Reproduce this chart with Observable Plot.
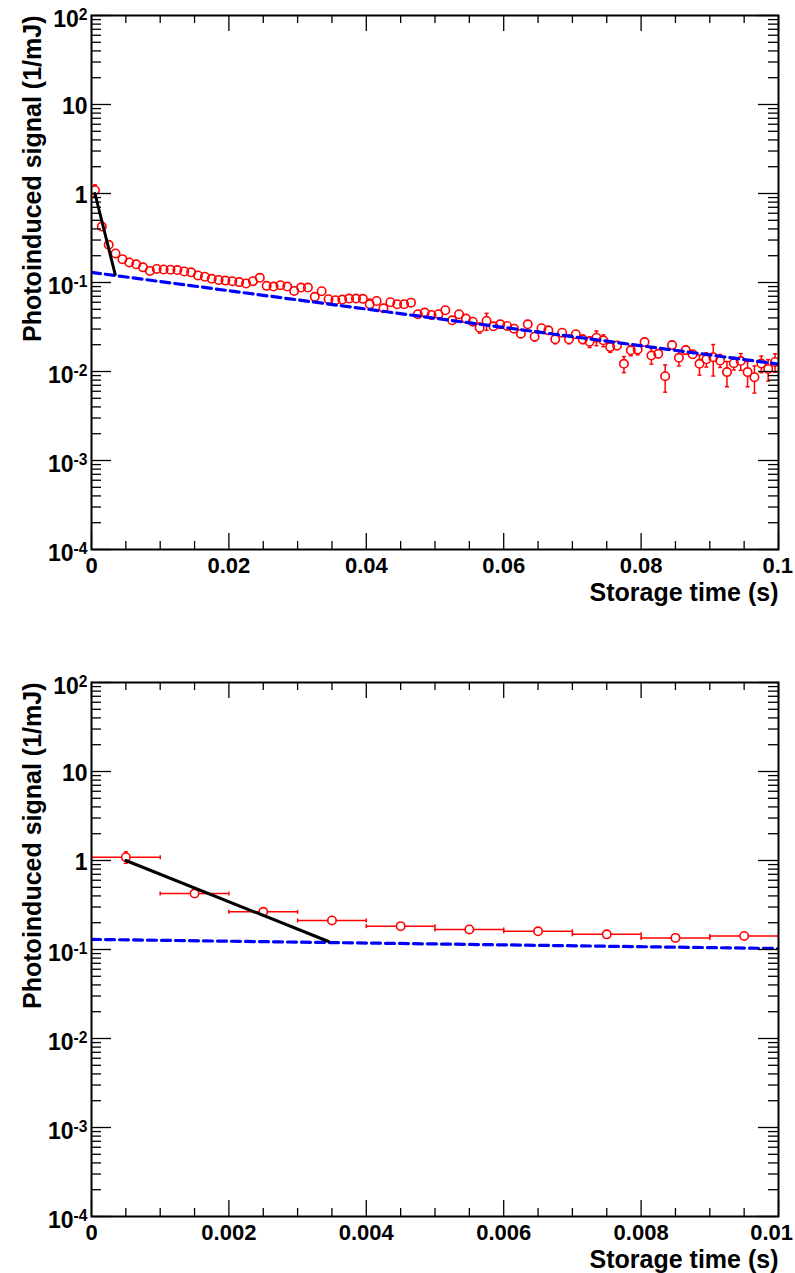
<!DOCTYPE html>
<html><head><meta charset="utf-8">
<script src="https://cdn.jsdelivr.net/npm/d3@7"></script>
<script src="https://cdn.jsdelivr.net/npm/@observablehq/plot@0.6"></script>
<style>
body{margin:0;background:#fff;}
svg{display:block;}
</style>
</head><body><div id="chart"></div>
<script>
// ---- data ----
const binCenters = [
 0.0005,0.0015,0.0025,0.0035,0.0045,0.0055,0.0065,0.0075,0.0085,0.0095,
 0.0105,0.0115,0.0125,0.0135,0.0145,0.0155,0.0165,0.0175,0.0185,0.0195,
 0.0205,0.0215,0.0225,0.0235,0.0245,0.0255,0.0265,0.0275,0.0285,0.0295,
 0.0305,0.0315,0.0325,0.0335,0.0345,0.0355,0.0365,0.0375,0.0385,0.0395,
 0.0405,0.0415,0.0425,0.0435,0.0445,0.0455,0.0465,0.0475,0.0485,0.0495,
 0.0505,0.0515,0.0525,0.0535,0.0545,0.0555,0.0565,0.0575,0.0585,0.0595,
 0.0605,0.0615,0.0625,0.0635,0.0645,0.0655,0.0665,0.0675,0.0685,0.0695,
 0.0705,0.0715,0.0725,0.0735,0.0745,0.0755,0.0765,0.0775,0.0785,0.0795,
 0.0805,0.0815,0.0825,0.0835,0.0845,0.0855,0.0865,0.0875,0.0885,0.0895,
 0.0905,0.0915,0.0925,0.0935,0.0945,0.0955,0.0965,0.0975,0.0985,0.0995
];
const signal = [
 1.09,0.425,0.265,0.212,0.183,0.168,0.160,0.148,0.135,0.142,
 0.140,0.139,0.138,0.133,0.130,0.120,0.116,0.110,0.107,0.105,
 0.1035,0.101,0.0975,0.1035,0.113,0.0917,0.090,0.0933,0.090,0.0805,
 0.0877,0.0877,0.069,0.0798,0.0649,0.0632,0.0643,0.066,0.066,0.0655,
 0.057,0.062,0.0513,0.060,0.057,0.057,0.0594,0.044,0.0459,0.0432,
 0.044,0.0488,0.0376,0.044,0.0393,0.0363,0.031,0.037,0.0322,0.0339,
 0.0325,0.0303,0.0266,0.0339,0.0246,0.0306,0.029,0.023,0.0273,0.023,
 0.0262,0.023,0.0216,0.024,0.0224,0.0188,0.0196,0.0122,0.0173,0.0177,
 0.0214,0.0151,0.0158,0.00886,0.0198,0.01426,0.0174,0.0156,0.0122,0.0137,
 0.0145,0.0133,0.00984,0.0124,0.0131,0.00984,0.00863,0.0123,0.0107,0.0128
];
const signalErr = [
 0.16,0.03,0.02,0.01,0.01,0.01,0.01,0.01,0.01,0.01,
 0.004,0.004,0.004,0.004,0.004,0.004,0.004,0.004,0.004,0.004,
 0.004,0.004,0.004,0.004,0.004,0.004,0.004,0.004,0.004,0.004,
 0.004,0.004,0.004,0.004,0.004,0.004,0.004,0.004,0.004,0.004,
 0.008,0.003,0.003,0.003,0.003,0.003,0.003,0.003,0.003,0.003,
 0.003,0.003,0.003,0.003,0.003,0.003,0.004,0.008,0.0025,0.0025,
 0.0025,0.0025,0.0025,0.0025,0.0025,0.0025,0.0025,0.0025,0.0025,0.0025,
 0.0025,0.0025,0.003,0.0045,0.0034,0.0024,0.002,0.0025,0.0023,0.0023,
 0.002,0.003,0.0015,0.003,0.0015,0.0027,0.0018,0.0015,0.0031,0.0025,
 0.0056,0.0022,0.0031,0.002,0.0028,0.0031,0.0029,0.0026,0.0029,0.003
];
const binWidth = 0.001;

// fit curves (exponentials: straight lines on the log axis), endpoints
const slowFitX = [0, 0.1];
const slowFitY = [0.13, 0.0121];
const fastFitX = [0.0005, 0.00345];
const fastFitY = [1.0, 0.123];

// axes
const yTicks = [1e-4, 1e-3, 1e-2, 1e-1, 1, 10, 100];
const yTickLabels = ["10^-4", "10^-3", "10^-2", "10^-1", "1", "10", "10^2"];
const topXTicks = [0, 0.02, 0.04, 0.06, 0.08, 0.1];
const topXTickLabels = ["0", "0.02", "0.04", "0.06", "0.08", "0.1"];
const bottomXTicks = [0, 0.002, 0.004, 0.006, 0.008, 0.01];
const bottomXTickLabels = ["0", "0.002", "0.004", "0.006", "0.008", "0.01"];
const yTitle = "Photoinduced signal (1/mJ)";
const xTitle = "Storage time (s)";

// ---- build ----
const rows = binCenters.map((x, i) => ({x, y: signal[i], e: signalErr[i]}));
const slowFit = slowFitX.map((x, i) => ({x, y: slowFitY[i]}));
const fastFit = fastFitX.map((x, i) => ({x, y: fastFitY[i]}));

const RED = "#ff0000", BLUE = "#0000ff";
const FONT = "'Liberation Sans', Arial, Helvetica, sans-serif";
const W = 795, ML = 91, MR = 17;

const capH = {draw(ctx, size){ const w = Math.sqrt(size / Math.PI); ctx.moveTo(-w, 0); ctx.lineTo(w, 0); }};
const capV = {draw(ctx, size){ const w = Math.sqrt(size / Math.PI); ctx.moveTo(0, -w); ctx.lineTo(0, w); }};

const yMinor = [];
for (let k = -4; k < 2; k++) for (let m = 2; m <= 9; m++) yMinor.push(m * Math.pow(10, k));

function panel(cfg) {
  const fw = W - ML - MR;
  const fh = cfg.height - cfg.marginTop - cfg.marginBottom;
  const [x0, x1] = cfg.xDomain;
  const step = cfg.xMinorStep;
  const xMinor = d3.range(0, Math.round((x1 - x0) / step) + 1).map(i => x0 + i * step)
    .filter(v => !cfg.xTicks.some(t => Math.abs(t - v) < step / 10));
  const yMajLen = 20, yMinLen = 10, xMajLen = 16, xMinLen = 8;
  const tickStyle = {stroke: "black", strokeWidth: 1.3};
  const svg = Plot.plot({
    width: W, height: cfg.height,
    marginLeft: ML, marginRight: MR, marginTop: cfg.marginTop, marginBottom: cfg.marginBottom,
    style: {fontFamily: FONT, background: "white"},
    x: {domain: cfg.xDomain},
    y: {type: "log", domain: [1e-4, 1e2]},
    marks: [
      // error bars
      Plot.ruleX(rows, {x: "x", y1: d => d.y - d.e, y2: d => d.y + d.e, stroke: RED, strokeWidth: 1.5, clip: true}),
      Plot.ruleY(rows, {y: "y", x1: d => d.x - binWidth / 2, x2: d => d.x + binWidth / 2, stroke: RED, strokeWidth: 1.5, clip: true}),
      Plot.dot(rows, {x: "x", y: d => d.y + d.e, symbol: capH, r: 2, stroke: RED, strokeWidth: 1.5, fill: "none", clip: true}),
      Plot.dot(rows, {x: "x", y: d => d.y - d.e, symbol: capH, r: 2, stroke: RED, strokeWidth: 1.5, fill: "none", clip: true}),
      Plot.dot(rows, {x: d => d.x - binWidth / 2, y: "y", symbol: capV, r: 2, stroke: RED, strokeWidth: 1.5, fill: "none", clip: true}),
      Plot.dot(rows, {x: d => d.x + binWidth / 2, y: "y", symbol: capV, r: 2, stroke: RED, strokeWidth: 1.5, fill: "none", clip: true}),
      // markers (open circles; error bars hidden inside)
      Plot.dot(rows, {x: "x", y: "y", r: 4.2, fill: "white", stroke: "none", clip: true}),
      Plot.dot(rows, {x: "x", y: "y", r: 4.2, fill: "none", stroke: RED, strokeWidth: 1.6, clip: true}),
      // fits
      Plot.line(slowFit, {x: "x", y: "y", stroke: BLUE, strokeWidth: 3.2, strokeDasharray: "9,5", clip: true}),
      Plot.line(fastFit, {x: "x", y: "y", stroke: "black", strokeWidth: 3, clip: true}),
      // y ticks (inside, both sides)
      Plot.ruleY(yTicks, {y: d => d, insetRight: fw - yMajLen, ...tickStyle}),
      Plot.ruleY(yTicks, {y: d => d, insetLeft: fw - yMajLen, ...tickStyle}),
      Plot.ruleY(yMinor, {y: d => d, insetRight: fw - yMinLen, ...tickStyle}),
      Plot.ruleY(yMinor, {y: d => d, insetLeft: fw - yMinLen, ...tickStyle}),
      // x ticks (inside, both sides)
      Plot.ruleX(cfg.xTicks, {x: d => d, insetTop: fh - xMajLen, ...tickStyle}),
      Plot.ruleX(cfg.xTicks, {x: d => d, insetBottom: fh - xMajLen, ...tickStyle}),
      Plot.ruleX(xMinor, {x: d => d, insetTop: fh - xMinLen, ...tickStyle}),
      Plot.ruleX(xMinor, {x: d => d, insetBottom: fh - xMinLen, ...tickStyle}),
      Plot.frame({stroke: "black", strokeWidth: 2}),
      // tick labels
      Plot.axisY(yTicks, {anchor: "left", tickSize: 0, tickPadding: 4, label: null,
        tickFormat: d => yTickLabels[yTicks.indexOf(d)], fontSize: 23, fontWeight: "bold", fill: "black", dy: 2}),
      Plot.axisX(cfg.xTicks, {anchor: "bottom", tickSize: 0, tickPadding: 8, label: null,
        tickFormat: d => cfg.xLabels[cfg.xTicks.indexOf(d)], fontSize: 22, fontWeight: "bold", fill: "black"}),
      // axis titles
      Plot.text([yTitle], {frameAnchor: "top-left", rotate: -90, textAnchor: "end", dx: -68,
        fontSize: 25, fontWeight: "bold", fill: "black"}),
      Plot.text([xTitle], {frameAnchor: "bottom-right", textAnchor: "end", lineAnchor: "bottom", dy: 51,
        fontSize: 25, fontWeight: "bold", fill: "black"})
    ]
  });
  // superscript exponents; keep the last x label inside the page
  d3.select(svg).selectAll("text").each(function() {
    const txt = this.textContent;
    if (txt === cfg.xLabels[cfg.xLabels.length - 1]) {
      d3.select(this).attr("text-anchor", "end").attr("dx", "0.66em");
      return;
    }
    const m = /^10\^(-?\d+)$/.exec(txt);
    if (!m) return;
    const t = d3.select(this);
    t.text(null);
    t.append("tspan").attr("dy", "0.1em").text("10");
    t.append("tspan").attr("dy", "-0.45em").attr("font-size", "0.68em").text(m[1]);
  });
  return svg;
}

const root = document.getElementById("chart");
root.appendChild(panel({xDomain: [0, 0.1], xTicks: topXTicks, xLabels: topXTickLabels, xMinorStep: 0.005,
  height: 636, marginTop: 15, marginBottom: 87}));
root.appendChild(panel({xDomain: [0, 0.01], xTicks: bottomXTicks, xLabels: bottomXTickLabels, xMinorStep: 0.0005,
  height: 637, marginTop: 46, marginBottom: 57}));
</script>
</body></html>
